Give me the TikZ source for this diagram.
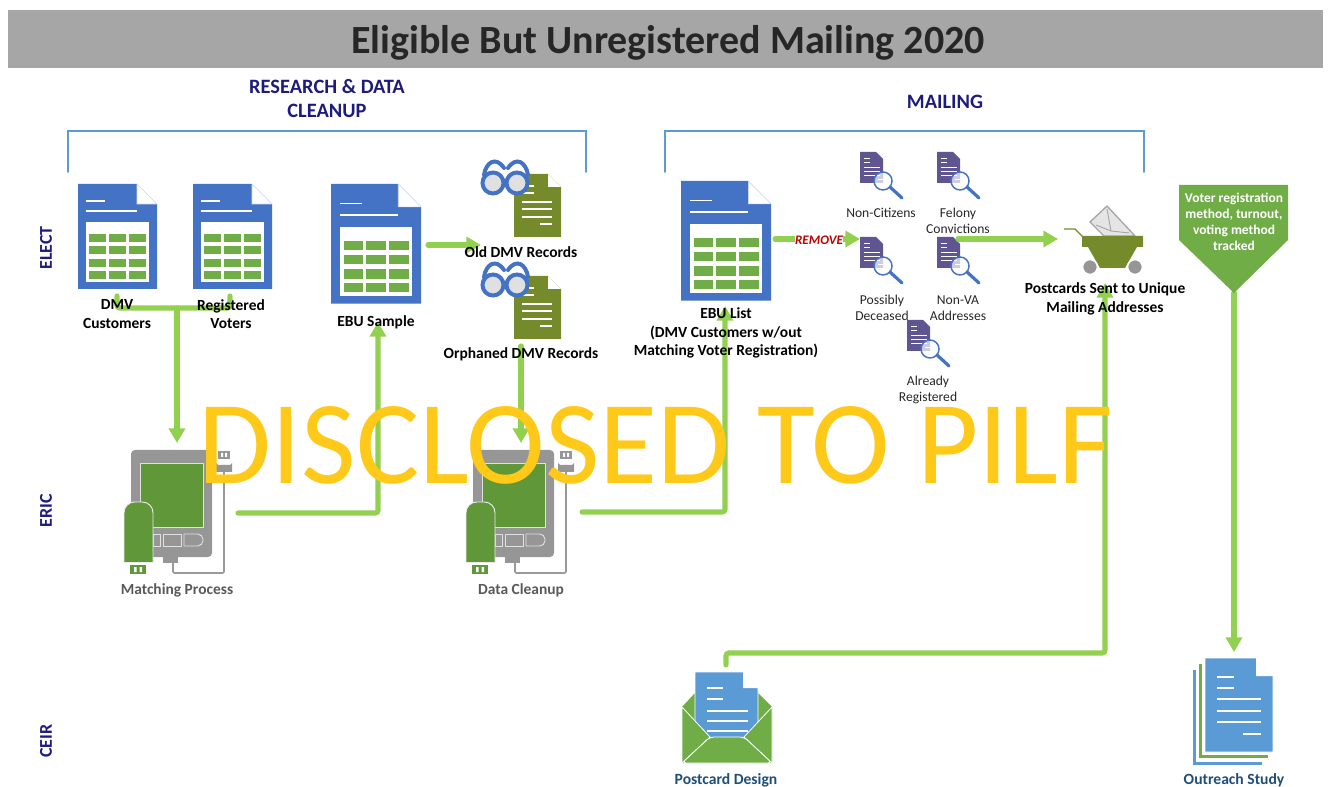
\documentclass[tikz,border=0pt]{standalone}
\usepackage{fontspec}
\setmainfont{Carlito}
\usetikzlibrary{arrows.meta}
\definecolor{barGrey}{HTML}{A6A6A6}
\definecolor{titleInk}{HTML}{262626}
\definecolor{navyInk}{HTML}{1E1B7E}
\definecolor{bracketBlue}{HTML}{5B9BD5}
\definecolor{sheetBlue}{HTML}{4472C4}
\definecolor{leafGreen}{HTML}{70AD47}
\definecolor{flowGreen}{HTML}{92D050}
\definecolor{olive}{HTML}{758A2B}
\definecolor{screenGreen}{HTML}{5F9739}
\definecolor{deviceGrey}{HTML}{969696}
\definecolor{purpleDoc}{HTML}{5F5590}
\definecolor{stampYellow}{HTML}{FFC91A}
\definecolor{portInk}{HTML}{1F4E79}
\tikzset{
	flow/.style={draw=flowGreen,line width=3.8pt,line cap=round,rounded corners=2pt},
	flowtip/.style={flow,-{Triangle[length=11pt,width=12pt]}},
	bracket/.style={draw=bracketBlue,line width=1.5pt,line cap=round},
	lane/.style={text=navyInk,font=\bfseries\fontsize{13.5}{15}\selectfont,rotate=90},
	headline/.style={text=navyInk,font=\bfseries\fontsize{15.3}{18}\selectfont,align=center},
	lbl/.style={text=black,font=\bfseries\fontsize{11.6}{14}\selectfont,align=center},
	lblgrey/.style={text=black!65,font=\bfseries\fontsize{11.6}{14}\selectfont,align=center},
	lblport/.style={text=portInk,font=\bfseries\fontsize{11.7}{14}\selectfont,align=center},
	lblsmall/.style={text=titleInk,font=\fontsize{10.2}{12}\selectfont,align=center},
	tablesheet/.pic={
		\fill[sheetBlue] (0,0) -- (59,0) -- (79,20) -- (79,105) -- (0,105) -- cycle;
		\draw[sheetBlue!25,line width=.4pt,fill=white] (59,0) -- (79,20) -- (59,20) -- cycle;
		\draw[white,line width=1.3pt] (8,17) -- (27,17) (8,27) -- (59,27);
		\fill[white] (8,38) rectangle (71,98);
		\foreach \cx in {11,31,51}
			\foreach \cy in {50,62,75,87}
				\fill[leafGreen] (\cx,\cy) rectangle ++(17,8);
	},
	foundsheet/.pic={
		\fill[olive] (0,0) -- (34,0) -- (47,13) -- (47,63) -- (0,63) -- cycle;
		\fill[white] (34,0) -- (47,13) -- (34,13) -- cycle;
		\draw[white,line width=1pt] (8,12) -- (20,12) (8,19) -- (20,19) (8,28) -- (38,28) (8,35) -- (38,35) (8,43) -- (38,43) (26,50) -- (38,50);
		\draw[sheetBlue,line width=3pt,fill=black!12] (-21,9) circle (10.5) (3,9) circle (10.5);
		\draw[sheetBlue,line width=3pt,line cap=round] (-10,9) -- (-8,9)
			(-30,1) .. controls (-28,-12) and (-18,-18) .. (-10,-6)
			(-6,-6) .. controls (2,-18) and (12,-12) .. (14,1);
	},
	lookupdoc/.pic={
		\fill[purpleDoc] (0,0) -- (16,0) -- (23,7) -- (23,31) -- (0,31) -- cycle;
		\draw[white,line width=.7pt] (4,6) -- (10,6) (4,10) -- (10,10) (4,15) -- (20,15) (4,19) -- (20,19) (4,23) -- (20,23);
		\draw[sheetBlue,line width=1.1pt,fill=white,fill opacity=.7] (23,29) circle (9);
		\draw[white,line width=.7pt] (18,27) -- (23,27);
		\draw[sheetBlue,line width=2.4pt,line cap=round] (30,35) -- (42,46);
	},
	cleandevice/.pic={
		\draw[black!40,line width=1.2pt,rounded corners=1pt] (42,112) -- (42,123) -- (93,123) -- (93,15);
		\fill[deviceGrey,rounded corners=3pt] (0,0) rectangle (81,107);
		\fill[deviceGrey] (32,107) rectangle (47,113);
		\draw[black!12,line width=.7pt,fill=screenGreen] (9,13) rectangle (72,77);
		\draw[black!12,line width=.7pt] (22,84) rectangle (29,96) (32,84) rectangle (50,96);
		\draw[black!12,line width=.7pt] (53,84) [rounded corners=4pt] -- (72,84) -- (72,96) [sharp corners] -- (53,96) -- cycle;
		\fill[deviceGrey] (85,13) -- (87,15) -- (99,15) -- (101,13) -- (101,22) -- (85,22) -- cycle;
		\fill[deviceGrey] (87,1) rectangle (99,9);
		\fill[white] (90,3) rectangle (92,7) (94,3) rectangle (96,7);
		\draw[black!8,line width=.7pt,fill=screenGreen,rounded corners=8pt] (-7,112) -- (-7,52) -- (22,52) -- (22,112);
		\draw[black!8,line width=.7pt] (-7,112) -- (22,112);
		\fill[screenGreen] (-1,115) rectangle (15,124);
		\fill[white] (3,117) rectangle (5.5,122) (8.5,117) rectangle (11,122);
	},
	mailcart/.pic={
		\draw[black!35,line width=1pt,fill=black!10] (8,-14) -- (25,-30) -- (53,0) -- (22,0) -- cycle;
		\draw[black!35,line width=.7pt] (25,-27) -- (29,-5) -- (47,-3) (14,-11) -- (29,-5);
		\draw[olive,line width=1pt] (-18,-7) -- (-7,-7) -- (1,1);
		\fill[olive] (0,0) -- (61,0) -- (61,11) -- (55,11) -- (43,32) -- (18,32) -- (6,11) -- (0,11) -- cycle;
		\draw[white,line width=1.2pt,fill=deviceGrey] (8,31) circle (7.5) (53,31) circle (7.5);
	},
	designmail/.pic={
		\fill[leafGreen] (0,35) -- (13,21) -- (76,21) -- (90,35) -- (90,91) -- (0,91) -- cycle;
		\draw[white,line width=.6pt,fill=bracketBlue] (13,0) -- (61,0) -- (76,16) -- (76,66) -- (13,66) -- cycle;
		\fill[white] (61,0) -- (76,16) -- (61,16) -- cycle;
		\draw[white,line width=1.2pt] (25,16) -- (41,16) (25,27) -- (41,27) (25,39) -- (66,39) (25,49) -- (66,49) (25,59) -- (66,59);
		\draw[white,line width=.6pt,fill=leafGreen] (0,35) -- (28,65) -- (0,91) -- cycle;
		\draw[white,line width=.6pt,fill=leafGreen] (90,35) -- (62,65) -- (90,91) -- cycle;
		\draw[white,line width=.6pt,fill=leafGreen,rounded corners=3pt] (0,91) -- (28,65) -- (62,65) -- (90,91) -- cycle;
	},
	studystack/.pic={
		\fill[bracketBlue] (-12,12) rectangle (57,107);
		\fill[white] (-9,10) rectangle (60,104);
		\fill[leafGreen] (-6,6) rectangle (63,100);
		\fill[white] (-3,4) rectangle (66,97);
		\draw[white,line width=.6pt,fill=bracketBlue] (0,0) -- (51,0) -- (68,18) -- (68,94) -- (0,94) -- cycle;
		\fill[white] (51,0) -- (68,18) -- (51,18) -- cycle;
		\draw[white,line width=1.2pt] (12,19) -- (29,19) (12,30) -- (29,30) (12,41) -- (56,41) (12,53) -- (56,53) (12,64) -- (56,64) (38,76) -- (56,76);
	}
}
\begin{document}
\begin{tikzpicture}[x=.75pt,y=-.75pt]
	\useasboundingbox (0,0) rectangle (1331,787);
	\fill[barGrey] (8,10) rectangle (1323,68);
	\node[text=titleInk,font=\bfseries\fontsize{30}{32}\selectfont] (title) at (668,43) {Eligible But Unregistered Mailing 2020};
	\node[headline] (research) at (327,99) {RESEARCH \& DATA\\CLEANUP};
	\node[headline] (mailing) at (945,102) {MAILING};
	\draw[bracket] (68,172) -- (68,131) -- (586,131) -- (586,172);
	\draw[bracket] (665,172) -- (665,131) -- (1144,131) -- (1144,172);
	\node[lane] (elect) at (46,248) {ELECT};
	\node[lane] (eric) at (46,511) {ERIC};
	\node[lane] (ceir) at (46,741) {CEIR};
	\pic at (78,184) {tablesheet};
	\pic at (193,184) {tablesheet};
	\pic[scale=1.14] at (331,184) {tablesheet};
	\pic[scale=1.14] at (681,181) {tablesheet};
	\pic at (514,174) {foundsheet};
	\pic at (514,276) {foundsheet};
	\pic at (860,152) {lookupdoc};
	\pic at (937,152) {lookupdoc};
	\pic at (860,237) {lookupdoc};
	\pic at (937,237) {lookupdoc};
	\pic at (907,320) {lookupdoc};
	\pic at (131,450) {cleandevice};
	\pic at (473,450) {cleandevice};
	\pic at (1082,236) {mailcart};
	\pic at (682,672) {designmail};
	\pic at (1205,658) {studystack};
	\coordinate (dmvout) at (117,296);
	\coordinate (regout) at (230,296);
	\coordinate (tee) at (177,308);
	\coordinate (matchin) at (177,443);
	\coordinate (matchout) at (238,513);
	\coordinate (samplein) at (378,322);
	\coordinate (sampleout) at (428,245);
	\coordinate (oldin) at (481,245);
	\coordinate (orphanout) at (521,346);
	\coordinate (cleanin) at (521,443);
	\coordinate (cleanout) at (582,512);
	\coordinate (listin) at (725,306);
	\coordinate (listout) at (775,239);
	\coordinate (removein) at (860,239);
	\coordinate (feltout) at (958,239);
	\coordinate (cartin) at (1058,239);
	\coordinate (designout) at (726,665);
	\coordinate (sentin) at (1105,283);
	\coordinate (trackout) at (1234,293);
	\coordinate (studyin) at (1234,652);
	\draw[flow] (dmvout) |- (tee) -| (regout);
	\draw[flowtip] (tee) -- (matchin);
	\draw[flowtip] (matchout) -| (samplein);
	\draw[flowtip] (sampleout) -- (oldin);
	\draw[flowtip] (orphanout) -- (cleanin);
	\draw[flowtip] (cleanout) -| (listin);
	\draw[flowtip] (listout) -- (removein);
	\draw[flowtip] (feltout) -- (cartin);
	\draw[flowtip] (designout) |- ++(379,-12) -- (sentin);
	\draw[flowtip] (trackout) -- (studyin);
	\node[lbl] (dmvlbl) at (117,314) {DMV\\Customers};
	\node[lbl] (reglbl) at (231,314) {Registered\\Voters};
	\node[lbl] (samplelbl) at (376,322) {EBU Sample};
	\node[lbl] (oldlbl) at (521,252) {Old DMV Records};
	\node[lbl] (orphanlbl) at (521,354) {Orphaned DMV Records};
	\node[lbl] (listlbl) at (726,333) {EBU List\\(DMV Customers w/out\\Matching Voter Registration)};
	\node[lbl] (sentlbl) at (1105,299) {Postcards Sent to Unique\\Mailing Addresses};
	\node[lblsmall] (noncit) at (881,213) {Non-Citizens};
	\node[lblsmall] (felony) at (958,221) {Felony\\Convictions};
	\node[lblsmall] (deceased) at (882,308) {Possibly\\Deceased};
	\node[lblsmall] (nonva) at (958,308) {Non-VA\\Addresses};
	\node[lblsmall] (already) at (928,390) {Already\\Registered};
	\node[fill=white,inner sep=0pt,text=red!75!black,font=\bfseries\itshape\fontsize{9.8}{10}\selectfont] (remove) at (819,240) {REMOVE};
	\node[lblgrey] (matchlbl) at (177,590) {Matching Process};
	\node[lblgrey] (cleanlbl) at (521,590) {Data Cleanup};
	\node[lblport] (designlbl) at (726,780) {Postcard Design};
	\node[lblport] (studylbl) at (1234,780) {Outreach Study};
	\fill[leafGreen] (1179,185) -- (1288,185) -- (1288,240) -- (1234,293) -- (1179,240) -- cycle;
	\node[text=white,font=\bfseries\fontsize{10.1}{12}\selectfont,align=center] (tracked) at (1234,222) {Voter registration\\method, turnout,\\voting method\\tracked};
	\node[text=stampYellow,font=\fontsize{89}{100}\selectfont] (stamp) at (656,445) {DISCLOSED TO PILF};
\end{tikzpicture}
\end{document}
